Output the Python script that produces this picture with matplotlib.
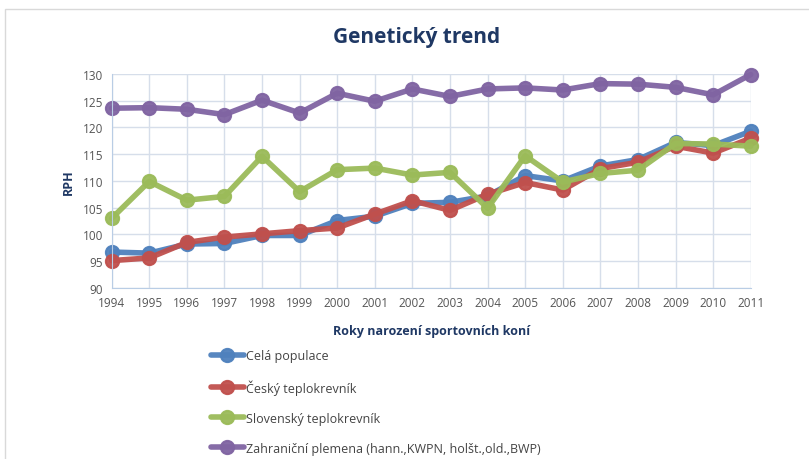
import matplotlib.pyplot as plt
from matplotlib.patches import Rectangle

plt.rcParams['font.family'] = ['Open Sans', 'DejaVu Sans']

years = list(range(1994, 2012))
cela = [96.7, 96.5, 98.2, 98.3, 99.8, 99.8, 102.6, 103.4, 105.8, 106.0, 107.2, 111.0,
        110.0, 112.8, 114.0, 117.2, 116.6, 119.3]
cesky = [95.1, 95.6, 98.5, 99.5, 100.1, 100.7, 101.2, 103.8, 106.3, 104.5, 107.5, 109.7,
         108.3, 112.3, 113.5, 116.5, 115.2, 118.0]
slovensky = [103.0, 109.9, 106.4, 107.1, 114.6, 108.0, 112.1, 112.4, 111.1, 111.6, 104.9, 114.7,
             109.8, 111.4, 112.0, 117.0, 116.9, 116.5]
zahranicni = [123.6, 123.7, 123.4, 122.4, 125.1, 122.7, 126.4, 124.9, 127.2, 125.8, 127.2, 127.4,
              127.0, 128.2, 128.1, 127.5, 126.1, 129.9]

labels = ['Celá populace', 'Český teplokrevník', 'Slovenský teplokrevník',
          'Zahraniční plemena (hann.,KWPN, holšt.,old.,BWP)']
colors = ['#4F81BD', '#C0504D', '#9BBB59', '#8064A2']
series = [cela, cesky, slovensky, zahranicni]

fig = plt.figure(figsize=(8.09, 4.60), dpi=100)
ax = fig.add_axes([0.138, 0.372, 0.79, 0.465])

for vals, lab, col in zip(series, labels, colors):
    ax.plot(years, vals, color=col, lw=4, marker='o', ms=9.5, mec=col, mew=1.5,
            label=lab, solid_capstyle='round', alpha=0.95)

ax.set_xlim(1994, 2011)
ax.set_ylim(90, 130)
ax.set_xticks(years)
ax.set_yticks(range(90, 131, 5))
ax.grid(True, color='#D6DEEA', lw=1)
ax.set_axisbelow(True)
for s in ['top', 'right']:
    ax.spines[s].set_visible(False)
for s in ['left', 'bottom']:
    ax.spines[s].set_color('#B9CDE5')
ax.tick_params(length=0, labelsize=8.5, colors='#555555', pad=6)
for ln in ax.lines:
    ln.set_clip_on(False)

ax.set_ylabel('RPH', fontsize=9, fontweight='bold', color='#1F3864', labelpad=6)
ax.set_xlabel('Roky narození sportovních koní', fontsize=9, fontweight='bold',
              color='#1F3864', labelpad=11)
fig.text(0.515, 0.918, 'Genetický trend', ha='center', va='center', fontsize=15,
         fontweight='bold', color='#1F3864')

ax.legend(loc='upper left', bbox_to_anchor=(0.138, -0.235), frameon=False, fontsize=9,
          labelspacing=1.35, handlelength=2.6, handletextpad=0.2, labelcolor='#444444')

fig.patches.append(Rectangle((0.006, -0.01), 1.0, 0.988, transform=fig.transFigure,
                             fill=False, edgecolor='#D9D9D9', lw=1))

fig.savefig('out.png', dpi=100)
